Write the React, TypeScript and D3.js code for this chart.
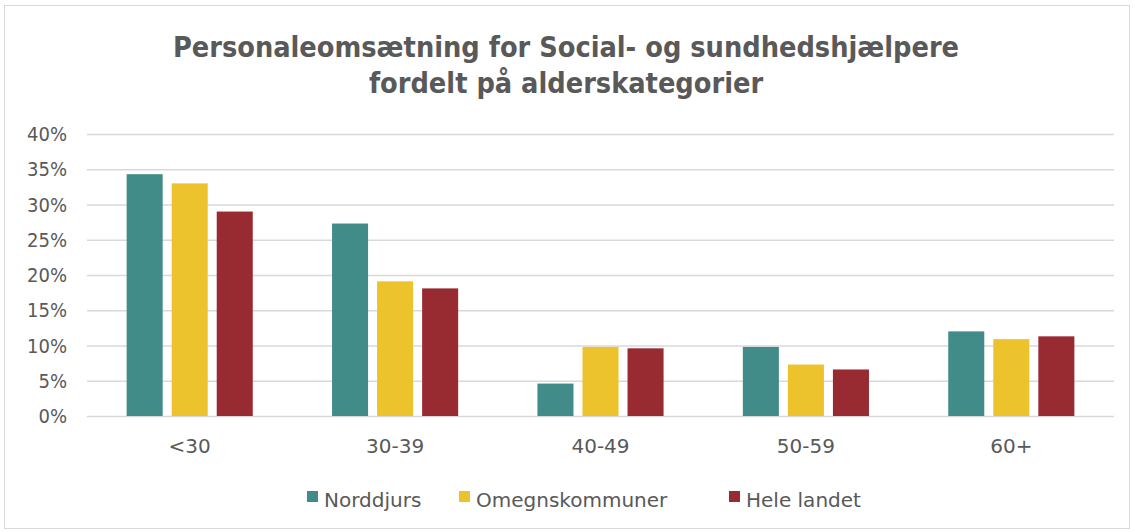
import React, { useEffect, useRef } from "react";
import * as d3 from "d3";

// Data
const categories = ["<30", "30-39", "40-49", "50-59", "60+"];
const seriesNames = ["Norddjurs", "Omegnskommuner", "Hele landet"];
const norddjurs = [34.3, 27.3, 4.6, 9.8, 12.0];
const omegn = [33.0, 19.1, 9.8, 7.3, 10.9];
const heleLandet = [29.0, 18.1, 9.6, 6.6, 11.3];
const yTicks = [0, 5, 10, 15, 20, 25, 30, 35, 40];
const colors = ["#418b89", "#ecc22d", "#982a31"];

const titleLines = [
  "Personaleomsætning for Social- og sundhedshjælpere",
  "fordelt på alderskategorier",
];

function App() {
  const ref = useRef<SVGSVGElement | null>(null);

  useEffect(() => {
    const width = 1135, height = 532;
    const margin = { top: 134, right: 21, bottom: 116, left: 87 };
    const condensed = "'DejaVu Sans Condensed', 'DejaVu Sans', sans-serif";
    const font = "'DejaVu Sans', sans-serif";
    const textColor = "#595959";

    const svg = d3.select(ref.current);
    svg.selectAll("*").remove();

    // chart frame
    svg.append("rect")
      .attr("x", 4.5).attr("y", 5.5)
      .attr("width", width - 10).attr("height", height - 9)
      .attr("fill", "#fff")
      .attr("stroke", "#d9d9d9");

    // title
    svg.append("text")
      .attr("x", 566).attr("y", 57)
      .attr("text-anchor", "middle")
      .attr("font-family", condensed)
      .attr("font-weight", "bold")
      .attr("font-size", 28.6)
      .attr("fill", textColor)
      .selectAll("tspan")
      .data(titleLines)
      .join("tspan")
        .attr("x", 566)
        .attr("dy", (d, i) => (i === 0 ? 0 : 36))
        .text(d => d);

    const plotW = width - margin.left - margin.right;
    const plotH = height - margin.top - margin.bottom;

    const g = svg.append("g").attr("transform", `translate(${margin.left},${margin.top})`);

    const y = d3.scaleLinear().domain([0, 40]).range([plotH, 0]);
    const x0 = d3.scaleBand().domain(categories).range([0, plotW]).padding(0);
    const x1 = d3.scaleBand()
      .domain(seriesNames)
      .range([0, x0.bandwidth()])
      .paddingInner(0.2)
      .paddingOuter(0.88);

    // gridlines
    g.selectAll("line.grid")
      .data(yTicks)
      .join("line")
        .attr("class", "grid")
        .attr("x1", 0).attr("x2", plotW)
        .attr("y1", d => y(d) + 0.5).attr("y2", d => y(d) + 0.5)
        .attr("stroke", "#d9d9d9")
        .attr("stroke-width", 1.3);

    // y labels
    g.selectAll("text.ytick")
      .data(yTicks)
      .join("text")
        .attr("class", "ytick")
        .attr("x", -20)
        .attr("y", d => y(d))
        .attr("dy", "0.36em")
        .attr("text-anchor", "end")
        .attr("font-family", condensed)
        .attr("font-size", 20)
        .attr("fill", textColor)
        .text(d => d + "%");

    const allSeries = [norddjurs, omegn, heleLandet];
    const rows = categories.map((c, i) => ({
      cat: c,
      vals: seriesNames.map((s, j) => ({ name: s, value: allSeries[j][i], color: colors[j] })),
    }));

    const groups = g.selectAll("g.cat")
      .data(rows)
      .join("g")
        .attr("class", "cat")
        .attr("transform", d => `translate(${x0(d.cat)},0)`);

    groups.selectAll("rect")
      .data(d => d.vals)
      .join("rect")
        .attr("x", d => x1(d.name)!)
        .attr("y", d => y(d.value))
        .attr("width", x1.bandwidth())
        .attr("height", d => plotH - y(d.value))
        .attr("fill", d => d.color);

    // category labels
    g.selectAll("text.xtick")
      .data(categories)
      .join("text")
        .attr("class", "xtick")
        .attr("x", d => x0(d)! + x0.bandwidth() / 2)
        .attr("y", plotH + 37)
        .attr("text-anchor", "middle")
        .attr("font-family", font)
        .attr("font-size", 20)
        .attr("fill", textColor)
        .text(d => d);

    // legend
    const legendX = [307, 459, 729];
    const legend = svg.selectAll("g.legend")
      .data(seriesNames)
      .join("g")
        .attr("class", "legend")
        .attr("transform", (d, i) => `translate(${legendX[i]},499)`);
    legend.append("rect")
      .attr("x", 0).attr("y", -8)
      .attr("width", 11).attr("height", 11)
      .attr("fill", (d, i) => colors[i]);
    legend.append("text")
      .attr("x", 17)
      .attr("y", 8)
      .attr("font-family", font)
      .attr("font-size", 20)
      .attr("fill", textColor)
      .text(d => d);
  }, []);

  return <svg ref={ref} width={1135} height={532} style={{ display: "block", position: "absolute", left: 0, top: 0 }} />;
}

export default App;
